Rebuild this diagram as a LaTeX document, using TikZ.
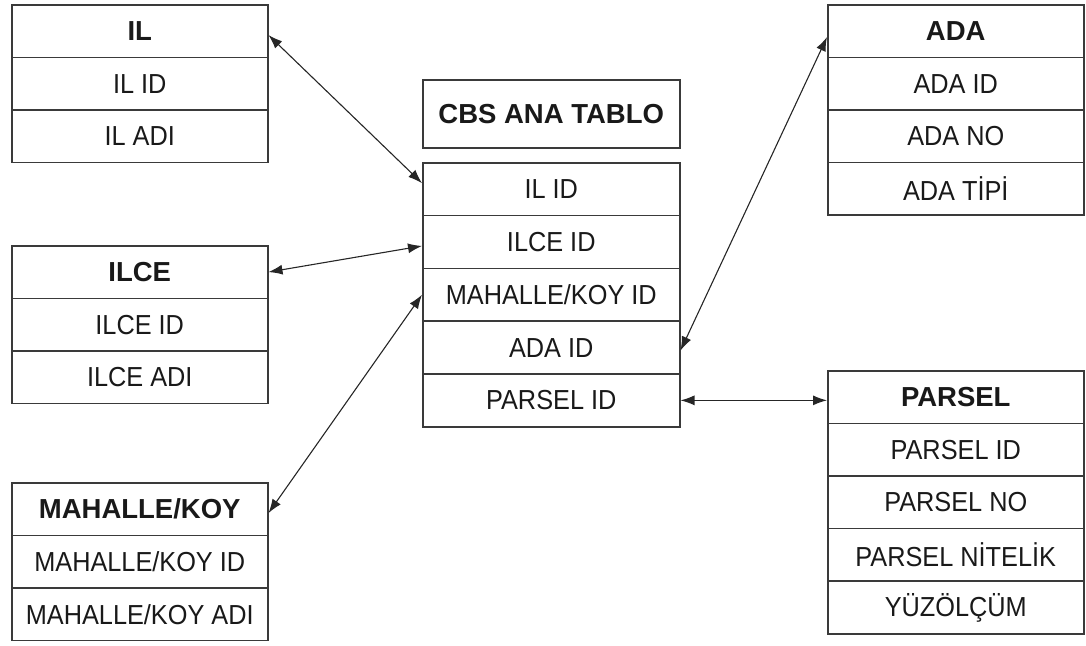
\documentclass[tikz,border=0pt]{standalone}
\usepackage{fontspec}
\setmainfont{Liberation Sans}
\newfontfamily\tabfont[FakeStretch=0.92]{Liberation Sans}
\usetikzlibrary{arrows.meta}
\definecolor{edge}{HTML}{3A3A3A}
\tikzset{
  cell/.style={draw=edge, line width=1.5pt, fill=white, inner sep=0pt,
    anchor=north west, minimum width=256pt, minimum height=52.6pt,
    font=\tabfont\fontsize{27.5}{32}\selectfont, text=black!90},
  head/.style={cell, font=\bfseries\fontsize{27.5}{32}\selectfont},
  link/.style={line width=1.1pt, black!85,
    {Latex[length=14pt,width=10pt]}-{Latex[length=14pt,width=10pt]}}
}
\begin{document}
\begin{tikzpicture}[x=1pt, y=-1pt]
\useasboundingbox (0,0) rectangle (1086,645);

% IL table
\node[head] (il0) at (11,4)      {IL};
\node[cell] (il1) at (11,56.6)   {IL ID};
\node[cell] (il2) at (11,109.2)  {IL ADI};

% ILCE table
\node[head] (ilce0) at (11,245)    {ILCE};
\node[cell] (ilce1) at (11,297.6)  {ILCE ID};
\node[cell] (ilce2) at (11,350.2)  {ILCE ADI};

% MAHALLE/KOY table
\node[head] (mk0) at (11,482)    {MAHALLE/KOY};
\node[cell] (mk1) at (11,534.6)  {MAHALLE/KOY ID};
\node[cell] (mk2) at (11,587.2)  {MAHALLE/KOY ADI};

% main table
\node[head, minimum width=257pt, minimum height=68pt] (cbs) at (422,79) {CBS ANA TABLO};
\node[cell, minimum width=257pt, minimum height=52.8pt] (m1) at (422,162)   {IL ID};
\node[cell, minimum width=257pt, minimum height=52.8pt] (m2) at (422,214.8) {ILCE ID};
\node[cell, minimum width=257pt, minimum height=52.8pt] (m3) at (422,267.6) {MAHALLE/KOY ID};
\node[cell, minimum width=257pt, minimum height=52.8pt] (m4) at (422,320.4) {ADA ID};
\node[cell, minimum width=257pt, minimum height=52.8pt] (m5) at (422,373.2) {PARSEL ID};

% ADA table
\node[head] (ada0) at (827,4)    {ADA};
\node[cell] (ada1) at (827,56.5) {ADA ID};
\node[cell] (ada2) at (827,109)  {ADA NO};
\node[cell] (ada3) at (827,161.5){ADA TİPİ};

% PARSEL table
\node[head] (p0) at (827,370)    {PARSEL};
\node[cell] (p1) at (827,422.6)  {PARSEL ID};
\node[cell] (p2) at (827,475.2)  {PARSEL NO};
\node[cell] (p3) at (827,527.8)  {PARSEL NİTELİK};
\node[cell] (p4) at (827,580.4)  {YÜZÖLÇÜM};

% relations
\draw[link] ([yshift=-4pt]il0.east) -- ([yshift=6pt]m1.west);
\draw[link] (ilce0.east) -- ([yshift=-4pt]m2.west);
\draw[link] ([yshift=-4pt]mk0.east) -- (m3.west);
\draw[link] ([yshift=-6pt]ada0.west) -- ([yshift=-3pt]m4.east);
\draw[link] (m5.east) -- (m5.east -| p0.west);
\end{tikzpicture}
\end{document}
